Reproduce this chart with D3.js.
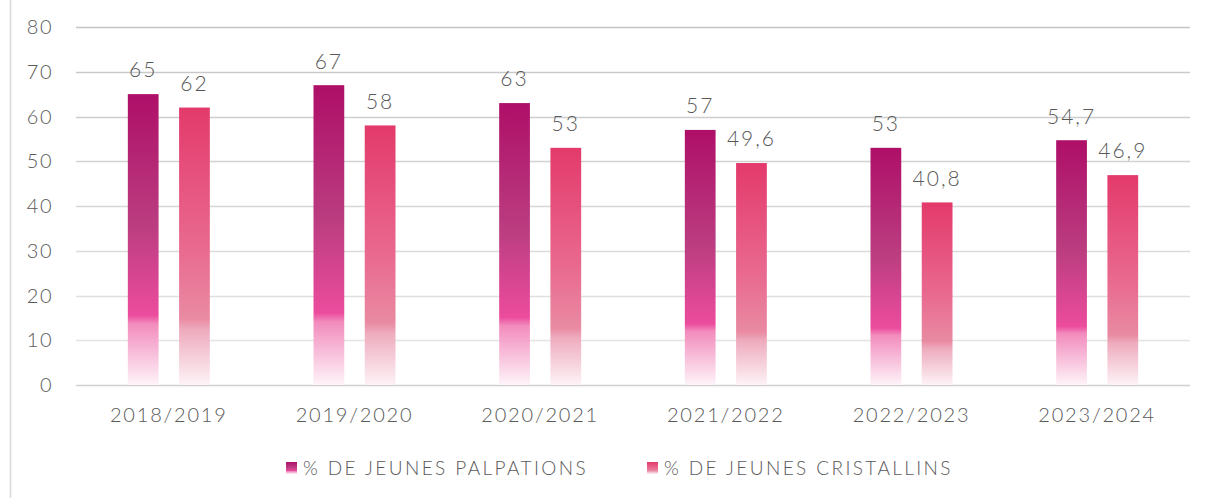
<!DOCTYPE html>
<html>
<head>
<meta charset="utf-8">
<script src="https://cdn.jsdelivr.net/npm/d3@7"></script>
<style>
  body { margin: 0; background: #fff; }
  text { font-family: "Lato", "DejaVu Sans", sans-serif; font-weight: 300; fill: #595959; }
</style>
</head>
<body>
<div id="chart"></div>
<script>
// data
var categories = ["2018/2019", "2019/2020", "2020/2021", "2021/2022", "2022/2023", "2023/2024"];
var palpations = [65, 67, 63, 57, 53, 54.7];
var cristallins = [62, 58, 53, 49.6, 40.8, 46.9];
var seriesNames = ["% DE JEUNES PALPATIONS", "% DE JEUNES CRISTALLINS"];
var yTicks = [0, 10, 20, 30, 40, 50, 60, 70, 80];

var width = 1205, height = 498;
var margin = {top: 27, right: 15, bottom: 113, left: 76};
var innerW = width - margin.left - margin.right,
    innerH = height - margin.top - margin.bottom;

var svg = d3.select("#chart").append("svg")
  .attr("width", width)
  .attr("height", height);

// gradients for each series (relative to each bar)
var defs = svg.append("defs");
var grads = [
  {id: "g0", stops: [[0, "#ae0f68"], [0.45, "#bb3d80"], [0.76, "#ec4c9d"], [0.79, "#f28cbd"], [1, "#fef4f9"]]},
  {id: "g1", stops: [[0, "#e33a6b"], [0.5, "#e9698f"], [0.76, "#e98aa2"], [0.8, "#eeabbe"], [1, "#fdf3f6"]]}
];
grads.forEach(function(g) {
  var lg = defs.append("linearGradient").attr("id", g.id)
    .attr("x1", 0).attr("y1", 0).attr("x2", 0).attr("y2", 1);
  g.stops.forEach(function(s) {
    lg.append("stop").attr("offset", s[0]).attr("stop-color", s[1]);
  });
});

// left frame line
svg.append("line")
  .attr("x1", 10.5).attr("x2", 10.5).attr("y1", 0).attr("y2", height)
  .attr("stroke", "#d9d9d9").attr("stroke-width", 1.5);

var g = svg.append("g").attr("transform", "translate(" + margin.left + "," + margin.top + ")");

var y = d3.scaleLinear().domain([0, 80]).range([innerH, 0]);
var x0 = d3.scaleBand().domain(categories).range([0, innerW]);
var x1 = d3.scaleBand().domain([0, 1]).range([x0.bandwidth() / 2 - 41, x0.bandwidth() / 2 + 41]).paddingInner(0.4);

var gridColor = d3.scaleLinear().domain([0, 80]).range(["#e8e8e8", "#c4c4c4"]);

// gridlines
g.selectAll(".grid").data(yTicks).enter().append("line")
  .attr("x1", 0).attr("x2", innerW)
  .attr("y1", function(d) { return Math.round(y(d)) + 0.5; })
  .attr("y2", function(d) { return Math.round(y(d)) + 0.5; })
  .attr("stroke", function(d) { return d === 0 ? "#d0d0d0" : gridColor(d); })
  .attr("stroke-width", 1.5);

// y labels
g.selectAll(".ylab").data(yTicks).enter().append("text")
  .attr("x", -23).attr("y", function(d) { return y(d); })
  .attr("dy", "0.35em")
  .attr("text-anchor", "end")
  .style("font-size", "20px")
  .style("letter-spacing", "1.5px")
  .text(function(d) { return d; });

// x labels
g.selectAll(".xlab").data(categories).enter().append("text")
  .attr("x", function(d) { return x0(d) + x0.bandwidth() / 2; })
  .attr("y", innerH + 30)
  .attr("dy", "0.35em")
  .attr("text-anchor", "middle")
  .style("font-size", "20px")
  .style("letter-spacing", "1.8px")
  .text(function(d) { return d; });

var series = [palpations, cristallins];
var fmt = function(v) { return String(v).replace(".", ","); };

series.forEach(function(vals, si) {
  var bars = g.selectAll(".bar" + si).data(vals).enter();
  bars.append("rect")
    .attr("x", function(d, i) { return x0(categories[i]) + x1(si); })
    .attr("width", x1.bandwidth())
    .attr("y", function(d) { return y(d); })
    .attr("height", function(d) { return innerH - y(d); })
    .attr("fill", "url(#g" + si + ")");
  bars.append("text")
    .attr("x", function(d, i) { return x0(categories[i]) + x1(si) + x1.bandwidth() / 2; })
    .attr("y", function(d) { return y(d) - 24; })
    .attr("dy", "0.35em")
    .attr("text-anchor", "middle")
    .style("font-size", "21px")
    .style("letter-spacing", "2px")
    .text(fmt);
});

// legend
var legend = svg.append("g");
var legX = [286, 647];
seriesNames.forEach(function(name, i) {
  legend.append("rect")
    .attr("x", legX[i]).attr("y", 462)
    .attr("width", 11).attr("height", 12)
    .attr("fill", "url(#g" + i + ")");
  legend.append("text")
    .attr("x", legX[i] + 17).attr("y", 468)
    .attr("dy", "0.35em")
    .style("font-size", "19px")
    .style("letter-spacing", "2.4px")
    .text(name);
});
</script>
</body>
</html>
